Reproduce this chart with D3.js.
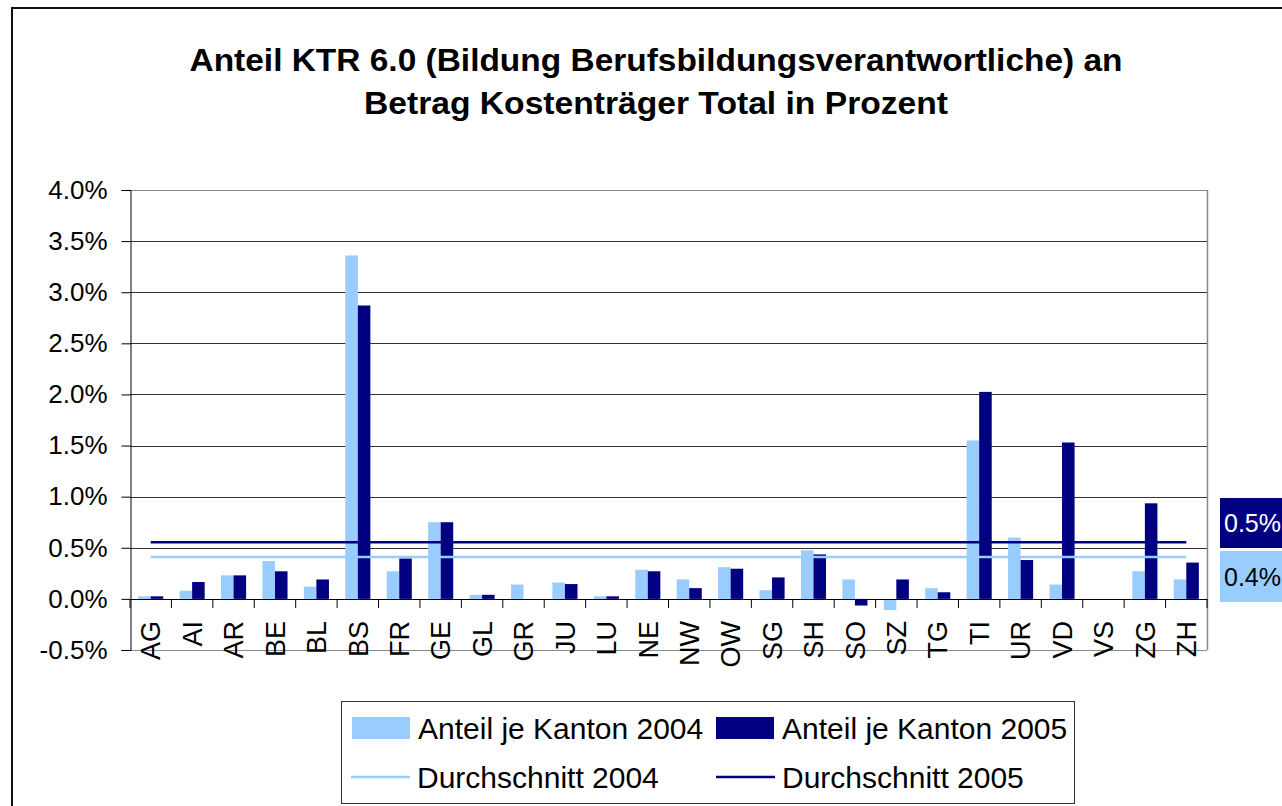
<!DOCTYPE html>
<html>
<head>
<meta charset="utf-8">
<style>
    body { margin: 0; background: white; }
    svg { font-family: Arial, 'Liberation Sans', sans-serif; }
</style>
</head>
<body>
<svg width="1282" height="806"></svg>
<script src="https://d3js.org/d3.v7.min.js"></script>
<script>
    // data (values in percent)
    let cantons = ["AG","AI","AR","BE","BL","BS","FR","GE","GL","GR","JU","LU","NE",
                   "NW","OW","SG","SH","SO","SZ","TG","TI","UR","VD","VS","ZG","ZH"]
    let anteil2004 = [0.025,0.08,0.23,0.37,0.12,3.36,0.27,0.75,0.04,0.14,0.16,0.025,0.285,
                      0.19,0.31,0.085,0.475,0.19,-0.11,0.105,1.55,0.60,0.14,0,0.27,0.19]
    let anteil2005 = [0.025,0.165,0.23,0.27,0.19,2.87,0.395,0.75,0.04,0,0.145,0.025,0.27,
                      0.105,0.295,0.21,0.435,-0.065,0.19,0.065,2.025,0.38,1.53,0,0.935,0.355]
    let durchschnitt = [0.41, 0.555]   // 2004, 2005
    let avgLabels = ["0.4%", "0.5%"]
    let yTicks = [-0.5,0,0.5,1,1.5,2,2.5,3,3.5,4]
    let seriesNames = ["Anteil je Kanton 2004","Anteil je Kanton 2005","Durchschnitt 2004","Durchschnitt 2005"]

    let light = "#99ccff", dark = "#000080"

    let svg = d3.select("svg")

    // outer chart border (only left/top visible)
    svg.append("rect")
        .attr("x", 12).attr("y", 8)
        .attr("width", 1300).attr("height", 850)
        .attr("fill", "white")
        .attr("stroke", "#111").attr("stroke-width", 2)

    // title
    let title = svg.append("g").attr("font-weight", "bold").attr("font-size", 32)
        .attr("text-anchor", "middle").attr("fill", "#000")
    title.append("text").attr("x", 656).attr("y", 71)
        .attr("textLength", 933).attr("lengthAdjust", "spacingAndGlyphs")
        .text("Anteil KTR 6.0 (Bildung Berufsbildungsverantwortliche) an")
    title.append("text").attr("x", 656).attr("y", 114)
        .attr("textLength", 584).attr("lengthAdjust", "spacingAndGlyphs")
        .text("Betrag Kostenträger Total in Prozent")

    let plotLeft = 130, plotRight = 1207, plotTop = 190, plotBottom = 650

    let x = d3.scaleBand().domain(cantons).range([plotLeft, plotRight])
    let x1 = d3.scaleBand().domain([0, 1]).range([0, x.bandwidth()])
        .paddingInner(0).paddingOuter(0.65)
    let y = d3.scaleLinear().domain([-0.5, 4]).range([plotBottom, plotTop])

    // gridlines
    svg.append("g").selectAll("line")
        .data(yTicks.filter(d => d !== 0))
        .join("line")
        .attr("x1", plotLeft).attr("x2", plotRight)
        .attr("y1", d => Math.round(y(d)) + 0.5).attr("y2", d => Math.round(y(d)) + 0.5)
        .attr("stroke", d => (d === 4 || d === -0.5) ? "#888" : "#333")
        .attr("stroke-width", 1)

    // right border of plot
    svg.append("line")
        .attr("x1", plotRight + 0.5).attr("x2", plotRight + 0.5)
        .attr("y1", plotTop).attr("y2", plotBottom)
        .attr("stroke", "#888").attr("stroke-width", 1.5)

    // bars
    let series = [anteil2004, anteil2005]
    let colors = [light, dark]
    series.forEach((vals, s) => {
        svg.append("g").selectAll("rect")
            .data(cantons.map((c, i) => ({c: c, v: vals[i]})))
            .join("rect")
            .attr("x", d => x(d.c) + x1(s))
            .attr("width", x1.bandwidth())
            .attr("y", d => y(Math.max(0, d.v)))
            .attr("height", d => Math.abs(y(d.v) - y(0)))
            .attr("fill", colors[s])
    })

    // average lines
    let avgColors = [light, dark]
    durchschnitt.forEach((v, s) => {
        let line = d3.line()
            .x(d => x(d) + x.bandwidth() / 2)
            .y(() => y(v))
        svg.append("path")
            .datum(cantons)
            .attr("d", line)
            .attr("fill", "none")
            .attr("stroke", avgColors[s])
            .attr("stroke-width", 2.5)
    })

    // y axis
    let yAxis = d3.axisLeft(y).tickValues(yTicks).tickSize(9).tickPadding(14)
        .tickFormat(d => d.toFixed(1) + "%")
    let gy = svg.append("g").attr("transform", `translate(${plotLeft + 0.5},0)`).call(yAxis)
    gy.select(".domain").attr("stroke", "#000")
    gy.selectAll(".tick line").attr("stroke", "#000")
    gy.selectAll("text").attr("font-size", 26).attr("font-family", "Arial, 'Liberation Sans', sans-serif")
        .attr("fill", "#000")

    // zero line + category ticks
    svg.append("line")
        .attr("x1", plotLeft).attr("x2", plotRight)
        .attr("y1", Math.round(y(0)) + 0.5).attr("y2", Math.round(y(0)) + 0.5)
        .attr("stroke", "#000")
    let bounds = cantons.map(c => x(c)).concat([plotRight])
    svg.append("g").selectAll("line")
        .data(bounds)
        .join("line")
        .attr("x1", d => d).attr("x2", d => d)
        .attr("y1", y(0)).attr("y2", y(0) + 9)
        .attr("stroke", "#000")

    // category labels
    svg.append("g").selectAll("text")
        .data(cantons)
        .join("text")
        .attr("transform", d => `translate(${x(d) + x.bandwidth() / 2},621) rotate(-90)`)
        .attr("text-anchor", "end")
        .attr("dy", "0.36em")
        .attr("font-size", 27)
        .text(d => d)

    // average value boxes on the right
    let boxes = [
        {label: avgLabels[1], fill: dark, text: "white", yTop: 498, h: 50},
        {label: avgLabels[0], fill: light, text: "black", yTop: 551, h: 51}
    ]
    boxes.forEach(b => {
        svg.append("rect").attr("x", 1220).attr("y", b.yTop)
            .attr("width", 70).attr("height", b.h).attr("fill", b.fill)
        svg.append("text").attr("x", 1224).attr("y", b.yTop + b.h / 2)
            .attr("dy", "0.36em").attr("font-size", 25).attr("fill", b.text)
            .text(b.label)
    })

    // legend
    let lg = svg.append("g")
    lg.append("rect").attr("x", 341.5).attr("y", 701.5).attr("width", 733).attr("height", 102)
        .attr("fill", "white").attr("stroke", "#333")
    let items = [
        {name: seriesNames[0], type: "bar", color: light, lx: 352, row: 0},
        {name: seriesNames[1], type: "bar", color: dark, lx: 716, row: 0},
        {name: seriesNames[2], type: "line", color: light, lx: 351, row: 1},
        {name: seriesNames[3], type: "line", color: dark, lx: 716, row: 1}
    ]
    items.forEach(it => {
        let cy = 728 + it.row * 49
        if (it.type === "bar") {
            lg.append("rect").attr("x", it.lx).attr("y", cy - 11)
                .attr("width", 58).attr("height", 22).attr("fill", it.color)
        } else {
            lg.append("line").attr("x1", it.lx).attr("x2", it.lx + 59)
                .attr("y1", cy).attr("y2", cy)
                .attr("stroke", it.color).attr("stroke-width", 2.5)
        }
        lg.append("text").attr("x", it.lx + 66).attr("y", cy).attr("dy", "0.36em")
            .attr("font-size", 30).text(it.name)
    })
</script>
</body>
</html>
